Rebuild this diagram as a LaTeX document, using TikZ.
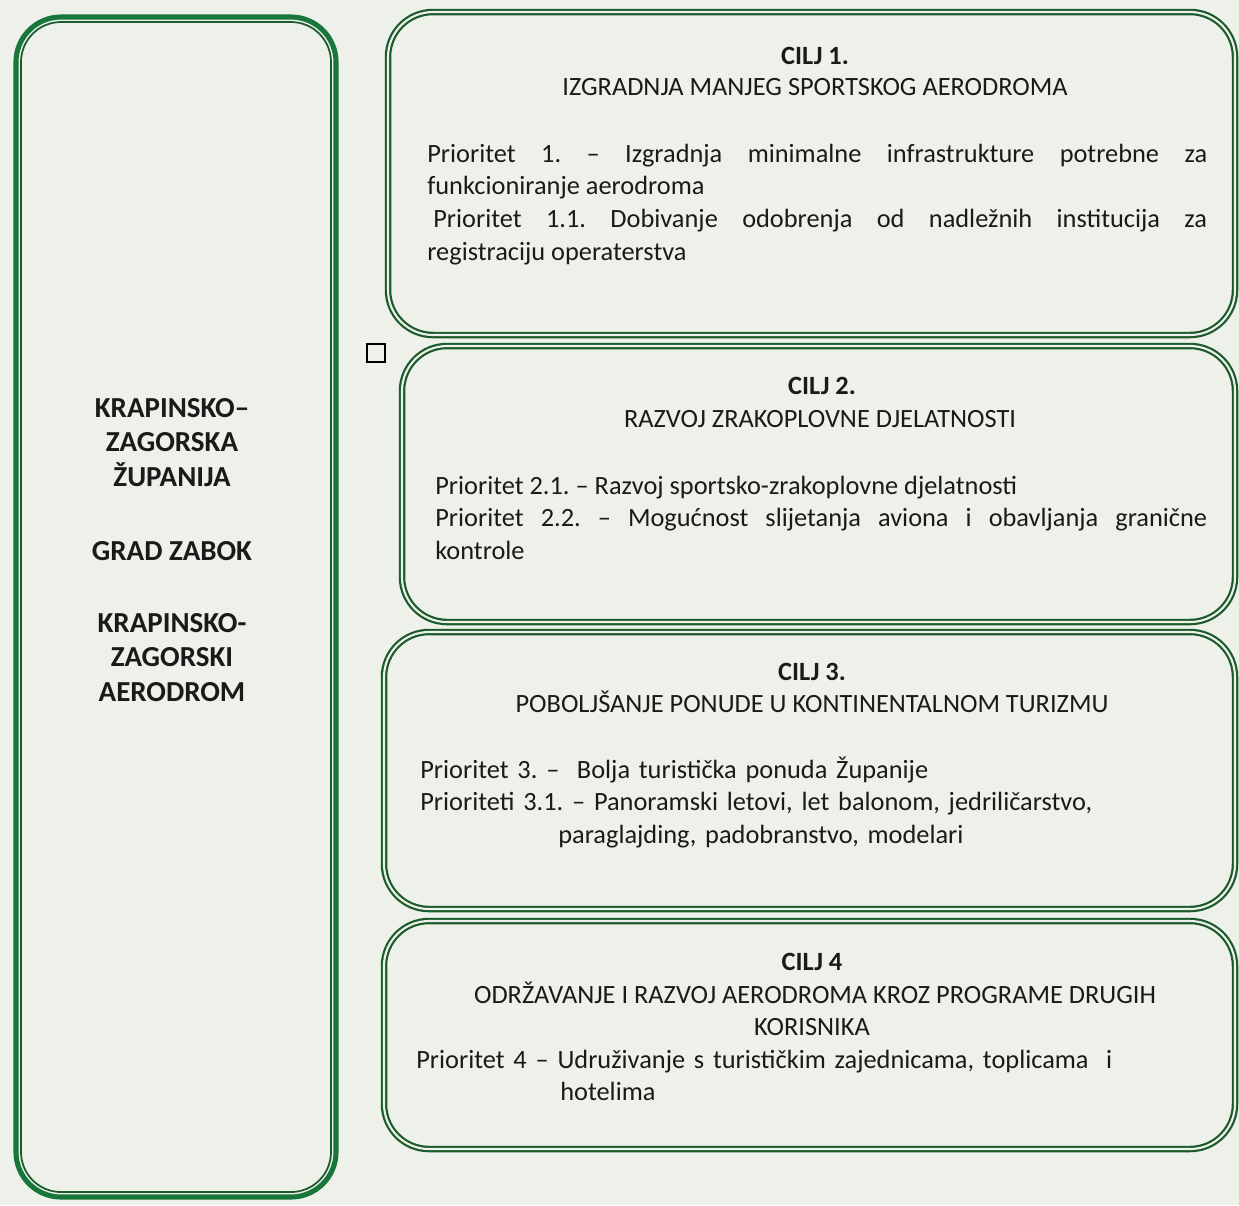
\documentclass[tikz,border=0pt]{standalone}
\usepackage{fontspec}
\setmainfont{Carlito}
\frenchspacing
\definecolor{pozadina}{HTML}{EEF0EA}
\definecolor{zelena}{HTML}{17773A}
\definecolor{tamnozelena}{HTML}{1B5A2A}
\definecolor{tekst}{HTML}{1A1A1A}
\begin{document}
\begin{tikzpicture}[x=0.02cm, y=-0.02cm,
    every node/.style={font=\fontsize{15}{18.7}\selectfont, text=tekst, inner sep=0pt},
    ciljokvir/.style={draw=tamnozelena, line width=1.25pt, double=pozadina, double distance=1.2pt, rounded corners=0.9cm},
    lijevi/.style={anchor=base, font=\fontsize{16.5}{19.9}\selectfont\bfseries},
    opis/.style={anchor=base west, align=justify}]
    % Pozadina
    \fill[pozadina] (0,0) rectangle (1239,1205);
    \useasboundingbox (0,0) rectangle (1239,1205);

    % Lijevi okvir
    \draw[zelena, line width=2.9pt, rounded corners=0.9cm] (16,17) rectangle (336,1197);
    \draw[tamnozelena, line width=1pt, rounded corners=0.8cm] (21,22) rectangle (331,1192);
    \node[lijevi, text width=6cm, align=center] (zupanija) at (172,417) {KRAPINSKO–\\ZAGORSKA\\ŽUPANIJA};
    \node[lijevi] (grad) at (172,560) {GRAD ZABOK};
    \node[lijevi, text width=6cm, align=center] (aerodrom) at (172,632) {KRAPINSKO-\\ZAGORSKI\\AERODROM};

    % Okviri ciljeva
    \draw[ciljokvir] (388,12) rectangle (1235,335);
    \draw[ciljokvir] (402,346) rectangle (1235,622);
    \draw[ciljokvir] (384,632) rectangle (1235,909);
    \draw[ciljokvir] (384,921) rectangle (1235,1149);
    \node[draw=black, line width=0.8pt, minimum size=0.36cm] (kvadrat) at (376,353) {};

    % Cilj 1
    \node[anchor=base, font=\fontsize{15}{18.7}\selectfont\bfseries] (cilj1) at (815,64) {CILJ 1.};
    \node[anchor=base] (naziv1) at (815,95) {IZGRADNJA MANJEG SPORTSKOG AERODROMA};
    \node[opis, text width=15.6cm] (prioritet1) at (427,162) {Prioritet 1. – Izgradnja minimalne infrastrukture potrebne za\linebreak funkcioniranje aerodroma\par
        \hspace*{0.12cm}Prioritet 1.1. Dobivanje odobrenja od nadležnih institucija za\linebreak registraciju operaterstva};

    % Cilj 2
    \node[anchor=base, font=\fontsize{15}{18.7}\selectfont\bfseries] (cilj2) at (822,394) {CILJ 2.};
    \node[anchor=base] (naziv2) at (820,427) {RAZVOJ ZRAKOPLOVNE DJELATNOSTI};
    \node[opis, text width=15.44cm] (prioritet2) at (435,494) {Prioritet 2.1. – Razvoj sportsko-zrakoplovne djelatnosti\par
        Prioritet 2.2. – Mogućnost slijetanja aviona i obavljanja granične\linebreak kontrole};

    % Cilj 3
    \node[anchor=base, font=\fontsize{15}{18.7}\selectfont\bfseries] (cilj3) at (812,680) {CILJ 3.};
    \node[anchor=base] (naziv3) at (812,712) {POBOLJŠANJE PONUDE U KONTINENTALNOM TURIZMU};
    \node[opis, text width=15.6cm, align=left] (prioritet3) at (420,778) {Prioritet 3. –\ \ Bolja turistička ponuda Županije\\
        Prioriteti 3.1. – Panoramski letovi, let balonom, jedriličarstvo,\\
        \hspace*{2.76cm}paraglajding, padobranstvo, modelari};

    % Cilj 4
    \node[anchor=base, font=\fontsize{15}{18.7}\selectfont\bfseries] (cilj4) at (812,970) {CILJ 4};
    \node[anchor=base] (naziv4) at (815,1003) {ODRŽAVANJE I RAZVOJ AERODROMA KROZ PROGRAME DRUGIH};
    \node[anchor=base] (naziv4b) at (812,1035) {KORISNIKA};
    \node[opis, text width=16cm, align=left] (prioritet4) at (416,1068) {Prioritet 4 – Udruživanje s turističkim zajednicama, toplicama\ \ i\\
        \hspace*{2.88cm}hotelima};
\end{tikzpicture}
\end{document}
